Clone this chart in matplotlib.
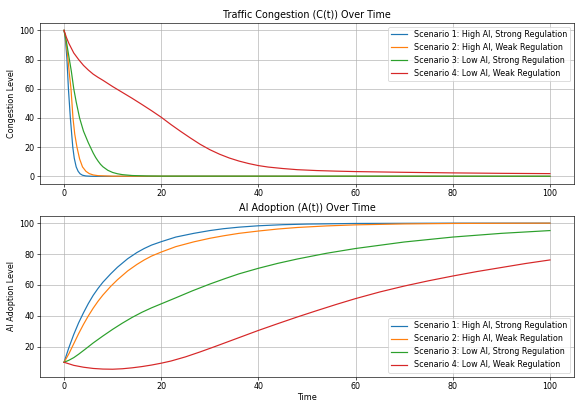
import matplotlib
matplotlib.use("Agg")
import matplotlib.pyplot as plt

labels = [
    "Scenario 1: High AI, Strong Regulation",
    "Scenario 2: High AI, Weak Regulation",
    "Scenario 3: Low AI, Strong Regulation",
    "Scenario 4: Low AI, Weak Regulation",
]

# congestion C(t)
c1_t = [0, 0.2, 0.4, 0.6, 0.9, 1.3, 1.8, 2.1, 2.5, 2.9, 3.3, 3.8, 4.5, 5.5, 7, 100]
c1_v = [100, 96, 89, 80, 60, 40, 20, 12.5, 6.5, 3.5, 1.8, 0.8, 0.3, 0.1, 0.02, 0]

c2_t = [0, 0.3, 0.6, 0.82, 1.1, 1.43, 1.84, 2.2, 2.66, 3.2, 3.8, 4.5, 5.2, 6, 7, 10, 100]
c2_v = [100, 95, 87, 80, 70, 60, 40, 29, 20, 12, 6.5, 3.5, 1.9, 1.0, 0.5, 0.15, 0.05]

c3_t = [0, 0.5, 1.1, 1.5, 2.0, 2.5, 3.2, 4, 5, 5.5, 6, 6.5, 7, 7.5, 8, 9, 10, 11, 12, 14, 17, 20, 100]
c3_v = [100, 92, 80, 72, 60, 51, 40, 31, 23, 19.5, 16, 13, 10.5, 8.3, 6.6, 4.2, 2.7, 1.8,
        1.2, 0.6, 0.3, 0.2, 0.1]

c4_t = [0, 0.5, 1, 2, 3, 4, 5, 6, 7, 8, 10, 12, 14, 16, 18, 20, 22, 24, 26, 28, 30, 32, 34,
        36, 38, 40, 42, 45, 48, 52, 56, 60, 70, 80, 90, 100]
c4_v = [100, 95, 91, 84.5, 80, 76, 72.8, 70, 67.8, 65.8, 61.5, 57.5, 53.5, 49.3, 45, 40.5,
        35.5, 30.8, 26.3, 22, 18.3, 15.2, 12.6, 10.5, 8.8, 7.4, 6.4, 5.4, 4.6, 4.0, 3.6,
        3.3, 2.8, 2.4, 2.1, 1.9]

# adoption A(t)
a1_t = [0, 1, 2, 3, 4, 5, 6, 7, 8, 9.6, 11, 13.1, 15, 16.5, 18, 20, 23, 26.7, 30, 32.8, 36,
        40, 45, 50, 60, 80, 100]
a1_v = [10, 19.5, 28, 35.5, 42, 48, 53.3, 57.8, 61.8, 67.2, 71.5, 77, 81, 83.6, 85.8, 88,
        91, 93.4, 95.2, 96.4, 97.4, 98.3, 99, 99.4, 99.8, 100, 100]

a2_t = [0, 1, 2, 3, 4, 5, 6, 7, 8, 9.6, 11, 13.1, 15, 16.5, 18, 20, 23, 26.7, 30, 32.8, 36,
        40, 44, 48, 54, 60, 70, 80, 100]
a2_v = [10, 15.5, 22, 28.5, 34.5, 40, 45, 49.5, 53.5, 59.1, 63.4, 69.1, 73.3, 76.2, 78.7,
        81.3, 84.8, 87.9, 90.2, 91.8, 93.4, 94.9, 96.2, 97.2, 98.2, 98.9, 99.5, 99.8, 100]

a3_t = [0, 1, 2, 3, 4.5, 6, 8, 10, 12, 14, 16, 18, 20, 23, 26.4, 30, 33.2, 36, 40, 44, 48,
        54, 60, 70, 80, 90, 100]
a3_v = [10, 11.3, 13, 15.2, 18.8, 22.5, 27, 31.3, 35.3, 39, 42.3, 45.2, 47.8, 51.7, 56.2,
        60.6, 64.2, 67.2, 70.8, 74, 76.8, 80.5, 83.6, 87.8, 91, 93.4, 95.2]

a4_t = [0, 2, 4, 6, 8, 10, 12, 14, 16, 18, 20, 22, 25, 28, 31, 34, 37, 40, 44, 48, 52, 56,
        60, 65, 70, 75, 80, 85, 90, 95, 100]
a4_v = [10, 8, 6.8, 6, 5.6, 5.5, 5.8, 6.4, 7.2, 8.2, 9.4, 10.8, 13.5, 16.7, 20.1, 23.6,
        27.1, 30.6, 35, 39.3, 43.4, 47.4, 51.2, 55.5, 59.3, 62.7, 65.8, 68.7, 71.3, 73.9, 76.2]

fig, (ax1, ax2) = plt.subplots(2, 1, figsize=(10, 7.014), dpi=57.6)

for t, v, lab in zip([c1_t, c2_t, c3_t, c4_t], [c1_v, c2_v, c3_v, c4_v], labels):
    ax1.plot(t, v, label=lab)
ax1.set_title("Traffic Congestion (C(t)) Over Time")
ax1.set_ylabel("Congestion Level")
ax1.legend(loc="upper right")
ax1.grid(True)

for t, v, lab in zip([a1_t, a2_t, a3_t, a4_t], [a1_v, a2_v, a3_v, a4_v], labels):
    ax2.plot(t, v, label=lab)
ax2.set_title("AI Adoption (A(t)) Over Time")
ax2.set_xlabel("Time", labelpad=2)
ax2.set_ylabel("AI Adoption Level")
ax2.legend(loc="lower right")
ax2.grid(True)

plt.subplots_adjust(left=0.069, right=0.997, top=0.943, bottom=0.068, hspace=0.2)
plt.savefig("out.png", dpi=57.6)
